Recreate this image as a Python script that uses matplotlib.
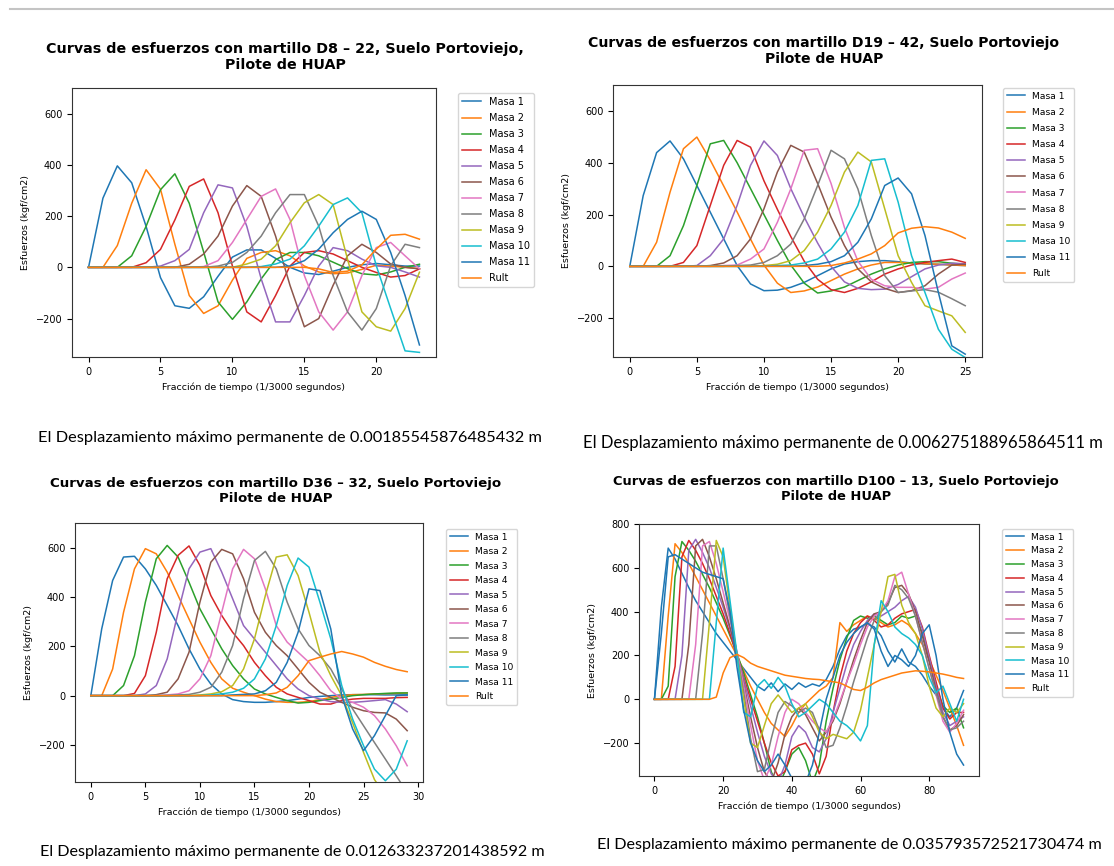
import matplotlib.pyplot as plt
from matplotlib.lines import Line2D
import numpy as np

W, H = 1114, 866

masa_labels = ["Masa 1", "Masa 2", "Masa 3", "Masa 4", "Masa 5", "Masa 6",
               "Masa 7", "Masa 8", "Masa 9", "Masa 10", "Masa 11", "Rult"]

# ---- D8-22 (x = 0..23) ----
t_d8 = np.arange(0, 24)
d8_m1 = [0, 270, 396, 330, 160, -40, -150, -160, -115, -35, 40, 68, 68, 35, 0, -22, -28, -15, 0, 10, 15, 10, 5, 5]
d8_m2 = [0, 0, 85, 250, 381, 305, 90, -110, -180, -150, -50, 35, 58, 65, 45, 5, -18, -25, -22, -8, 8, 5, 0, -5]
d8_m3 = [0, 0, 0, 45, 160, 303, 365, 250, 60, -135, -203, -135, -45, 30, 58, 58, 45, 20, -5, -25, -30, -18, 0, 12]
d8_m4 = [0, 0, 0, 0, 18, 70, 185, 316, 345, 213, 5, -174, -213, -110, 5, 58, 65, 52, 26, 0, -20, -38, -32, -6]
d8_m5 = [0, 0, 0, 0, 0, 5, 26, 70, 213, 322, 310, 160, -45, -213, -213, -110, 5, 77, 65, 32, 6, 0, -18, -38]
d8_m6 = [0, 0, 0, 0, 0, 0, 0, 12, 52, 122, 239, 319, 277, 122, -70, -232, -200, -70, 45, 90, 58, 13, 0, -6]
d8_m7 = [0, 0, 0, 0, 0, 0, 0, 0, 3, 26, 97, 187, 277, 306, 187, -32, -174, -245, -174, -32, 77, 97, 45, -6]
d8_m8 = [0, 0, 0, 0, 0, 0, 0, 0, 0, 5, 19, 58, 122, 213, 284, 284, 161, -32, -174, -245, -161, 6, 90, 77]
d8_m9 = [0, 0, 0, 0, 0, 0, 0, 0, 0, 0, 0, 13, 32, 84, 174, 252, 284, 245, 32, -174, -232, -249, -161, -19]
d8_m10 = [0, 0, 0, 0, 0, 0, 0, 0, 0, 0, 0, 0, 3, 13, 32, 84, 161, 245, 271, 213, 6, -161, -326, -332]
d8_m11 = [0, 0, 0, 0, 0, 0, 0, 0, 0, 0, 0, 0, 0, 0, 5, 26, 71, 135, 187, 219, 187, 58, -110, -303]
d8_rult = [0, 0, 0, 0, 0, 0, 0, 0, 0, 0, 0, 0, 0, 0, 0, 0, -6, -20, -15, 10, 71, 125, 129, 110]

# ---- D19-42 (x = 0..25) ----
t_d19 = np.arange(0, 26)
d19_m1 = [0, 273, 439, 484, 415, 312, 209, 106, 3, -68, -94, -92, -81, -62, -36, -10, 9, 18, 22, 22, 18, 13, 9, 8, 5, 3]
d19_m2 = [0, 0, 93, 286, 454, 499, 410, 310, 210, 105, 5, -65, -101, -95, -80, -55, -30, -10, 5, 15, 15, 13, 10, 8, 5, 3]
d19_m3 = [0, 0, 0, 41, 157, 312, 473, 486, 400, 300, 200, 100, 5, -65, -103, -95, -80, -55, -30, -10, 5, 15, 18, 18, 12, 8]
d19_m4 = [0, 0, 0, 0, 15, 80, 235, 390, 486, 460, 330, 220, 115, 20, -50, -90, -101, -85, -60, -30, -10, 5, 15, 22, 28, 15]
d19_m5 = [0, 0, 0, 0, 0, 3, 41, 106, 235, 390, 484, 428, 300, 190, 90, 0, -60, -85, -90, -88, -70, -40, -10, 5, 12, 10]
d19_m6 = [0, 0, 0, 0, 0, 0, 3, 13, 41, 106, 222, 364, 467, 441, 320, 190, 80, -10, -60, -85, -101, -94, -75, -30, 5, 8]
d19_m7 = [0, 0, 0, 0, 0, 0, 0, 3, 5, 28, 67, 170, 299, 448, 454, 320, 150, 20, -50, -75, -81, -81, -88, -81, -49, -26]
d19_m8 = [0, 0, 0, 0, 0, 0, 0, 0, 3, 5, 15, 41, 86, 183, 312, 448, 415, 299, 119, -36, -101, -95, -90, -100, -125, -152]
d19_m9 = [0, 0, 0, 0, 0, 0, 0, 0, 0, 0, 3, 8, 22, 61, 132, 235, 364, 441, 403, 222, 41, -62, -152, -172, -191, -255]
d19_m10 = [0, 0, 0, 0, 0, 0, 0, 0, 0, 0, 0, 3, 5, 13, 28, 67, 132, 235, 409, 415, 248, 41, -101, -243, -320, -352]
d19_m11 = [0, 0, 0, 0, 0, 0, 0, 0, 0, 0, 0, 0, 0, 3, 8, 18, 41, 93, 183, 312, 341, 280, 119, -101, -307, -339]
d19_rult = [0, 0, 0, 0, 0, 0, 0, 0, 0, 0, 0, 0, 0, 0, 0, 3, 13, 28, 48, 80, 129, 147, 153, 148, 132, 108]

# ---- D36-32 (x = 0..29) ----
t_d36 = np.arange(0, 30)
d36_m1 = [0, 271, 467, 562, 565, 514, 447, 366, 284, 190, 108, 47, 7, -16, -24, -27, -27, -24, -20, -14, -7, -3, 0, 3, 4, 4, 4, 3, 3, 3]
d36_m2 = [0, 0, 108, 338, 514, 596, 575, 501, 406, 311, 217, 135, 68, 30, 14, 0, -14, -24, -27, -27, -24, -16, -7, 0, 4, 5, 7, 8, 9, 11]
d36_m3 = [0, 0, 0, 41, 162, 379, 555, 609, 562, 460, 352, 271, 190, 122, 68, 27, 7, -7, -20, -30, -27, -20, -14, -7, 0, 4, 7, 9, 11, 11]
d36_m4 = [0, 0, 0, 0, 9, 81, 257, 474, 569, 607, 528, 406, 325, 257, 203, 135, 81, 34, 7, -7, -20, -34, -34, -20, -14, -11, -11, -11, -8, -7]
d36_m5 = [0, 0, 0, 0, 0, 7, 41, 149, 338, 514, 582, 596, 501, 393, 284, 230, 176, 122, 68, 27, 0, -14, -24, -27, -27, -24, -20, -16, -34, -65]
d36_m6 = [0, 0, 0, 0, 0, 0, 4, 14, 68, 176, 379, 541, 593, 575, 474, 338, 257, 203, 162, 108, 54, 14, -7, -27, -47, -61, -68, -70, -95, -142]
d36_m7 = [0, 0, 0, 0, 0, 0, 0, 3, 7, 20, 68, 162, 338, 514, 593, 555, 433, 284, 217, 176, 135, 81, 20, -14, -27, -47, -81, -135, -203, -284]
d36_m8 = [0, 0, 0, 0, 0, 0, 0, 0, 3, 5, 14, 34, 95, 203, 393, 548, 585, 514, 379, 271, 203, 162, 108, 27, -54, -122, -190, -257, -325, -393]
d36_m9 = [0, 0, 0, 0, 0, 0, 0, 0, 0, 0, 3, 7, 16, 41, 108, 230, 406, 562, 571, 487, 338, 176, 81, 0, -110, -230, -340, -406, -447, -474]
d36_m10 = [0, 0, 0, 0, 0, 0, 0, 0, 0, 0, 0, 3, 7, 14, 30, 68, 149, 284, 447, 558, 521, 379, 230, 41, -95, -203, -298, -345, -298, -183]
d36_m11 = [0, 0, 0, 0, 0, 0, 0, 0, 0, 0, 0, 0, 0, 3, 5, 7, 20, 54, 135, 257, 433, 426, 270, 0, -135, -223, -162, -81, 0, 3]
d36_rult = [0, 0, 0, 0, 0, 0, 0, 0, 0, 0, 0, 0, 0, 0, 0, 0, 4, 11, 34, 81, 142, 156, 169, 179, 169, 156, 135, 119, 106, 97]

# ---- D100-13 (x = 0..90, read every 2 units) ----
t_d100 = np.arange(0, 91, 2)
d100_m1 = [0, 420, 690, 640, 575, 510, 450, 400, 350, 300, 260, 220, 180, 140, 100, 60, 40, 75, 35, 70, 45, 75, 55, 70, 60, 90, 150, 230, 290, 320, 330, 345, 330, 290, 220, 170, 230, 170, 150, 110, 60, 20, -40, -80, -40, 40]
d100_m2 = [0, 0, 380, 710, 670, 620, 560, 500, 440, 380, 320, 260, 200, 130, 60, 0, -60, -110, -140, -170, -120, -60, -20, 10, 40, 60, 100, 350, 310, 340, 360, 380, 370, 350, 330, 340, 360, 340, 300, 250, 180, 110, 40, -40, -120, -210]
d100_m3 = [0, 0, 60, 560, 720, 680, 630, 570, 510, 440, 370, 290, 210, 120, 20, -80, -200, -330, -400, -330, -250, -220, -280, -380, -300, -100, 50, 180, 280, 360, 380, 370, 380, 360, 340, 350, 380, 370, 380, 300, 180, 60, -30, -60, -40, -130]
d100_m4 = [0, 0, 0, 150, 650, 725, 680, 620, 550, 470, 390, 300, 200, 100, 0, -100, -200, -290, -350, -330, -230, -210, -200, -250, -340, -260, -60, 100, 220, 300, 350, 380, 360, 330, 340, 370, 390, 400, 410, 330, 200, 80, -40, -90, -60, -60]
d100_m5 = [0, 0, 0, 0, 200, 680, 730, 670, 600, 510, 420, 320, 210, 90, -30, -150, -260, -340, -380, -300, -170, -120, -150, -220, -240, -180, -60, 50, 160, 250, 310, 360, 390, 380, 400, 420, 450, 470, 420, 320, 190, 60, -60, -120, -100, -80]
d100_m6 = [0, 0, 0, 0, 0, 250, 700, 730, 650, 550, 440, 330, 210, 70, -80, -220, -330, -380, -290, -160, -80, -40, -70, -130, -190, -150, -100, -20, 80, 180, 270, 350, 390, 400, 440, 510, 520, 480, 400, 290, 170, 40, -80, -140, -120, -70]
d100_m7 = [0, 0, 0, 0, 0, 0, 250, 700, 720, 620, 490, 360, 220, 60, -120, -280, -370, -300, -170, -60, 0, -20, -60, -100, -130, -150, -90, -10, 80, 160, 250, 330, 380, 400, 450, 560, 580, 480, 380, 260, 140, 20, -100, -150, -110, -50]
d100_m8 = [0, 0, 0, 0, 0, 0, 0, 300, 700, 700, 550, 380, 210, 30, -180, -330, -320, -180, -60, -10, -30, -60, -40, -60, -140, -220, -210, -130, -30, 80, 180, 280, 360, 400, 430, 520, 500, 460, 380, 260, 140, 30, -80, -140, -130, -100]
d100_m9 = [0, 0, 0, 0, 0, 0, 0, 0, 350, 725, 650, 420, 200, 0, -200, -220, -120, -20, 20, -20, -60, -40, -20, -80, -150, -180, -160, -170, -180, -150, -50, 100, 250, 400, 560, 570, 430, 350, 300, 200, 60, -40, -80, -40, -60, -20]
d100_m10 = [0, 0, 0, 0, 0, 0, 0, 0, 0, 350, 690, 450, 210, -60, -80, 60, 90, 50, 100, 60, -20, -80, -60, -30, 0, -20, -60, -100, -120, -150, -190, -120, 250, 450, 400, 330, 300, 280, 250, 200, 100, 30, 60, -20, -100, 0]
d100_m11 = [0, 300, 650, 660, 640, 620, 600, 580, 570, 560, 550, 400, 150, -50, -200, -280, -330, -300, -250, -300, -360, -400, -380, -300, -150, 0, 100, 200, 260, 300, 330, 350, 320, 220, 150, 200, 180, 150, 200, 300, 340, 200, 0, -150, -250, -300]
d100_rult = [0, 0, 0, 0, 0, 0, 0, 0, 0, 10, 120, 190, 205, 190, 165, 150, 140, 130, 120, 110, 105, 100, 95, 92, 90, 85, 80, 75, 60, 45, 40, 55, 75, 90, 100, 110, 120, 125, 130, 128, 125, 120, 115, 108, 100, 95]

d8 = [d8_m1, d8_m2, d8_m3, d8_m4, d8_m5, d8_m6, d8_m7, d8_m8, d8_m9, d8_m10, d8_m11, d8_rult]
d19 = [d19_m1, d19_m2, d19_m3, d19_m4, d19_m5, d19_m6, d19_m7, d19_m8, d19_m9, d19_m10, d19_m11, d19_rult]
d36 = [d36_m1, d36_m2, d36_m3, d36_m4, d36_m5, d36_m6, d36_m7, d36_m8, d36_m9, d36_m10, d36_m11, d36_rult]
d100 = [d100_m1, d100_m2, d100_m3, d100_m4, d100_m5, d100_m6, d100_m7, d100_m8, d100_m9, d100_m10, d100_m11, d100_rult]

titles = ["Curvas de esfuerzos con martillo D8 – 22, Suelo Portoviejo,\nPilote de HUAP",
          "Curvas de esfuerzos con martillo D19 – 42, Suelo Portoviejo\nPilote de HUAP",
          "Curvas de esfuerzos con martillo D36 – 32, Suelo Portoviejo\nPilote de HUAP",
          "Curvas de esfuerzos con martillo D100 – 13, Suelo Portoviejo\nPilote de HUAP"]
desplazamientos = ["0.00185545876485432", "0.006275188965864511",
                   "0.012633237201438592", "0.035793572521730474"]

plt.rcParams['font.size'] = 7

fig = plt.figure(figsize=(W/100, H/100), dpi=100)


def px_axes(l, t, r, b):
    return fig.add_axes([l/W, 1-b/H, (r-l)/W, (b-t)/H])


def fit_width(txt, target):
    rend = fig.canvas.get_renderer()
    w = txt.get_window_extent(rend).width
    txt.set_fontsize(txt.get_fontsize()*target/w)


# axes box, ylim, legend corner + font + spacing, title centre/width, note position/width
layout = [
    (t_d8, d8, (72, 88, 436, 357), (-350, 700), (458, 93, 7.0, 0.62), (285, 57, 474), (38, 438, 505)),
    (t_d19, d19, (613, 85, 982, 357), (-350, 700), (1003, 88, 6.6, 0.78), (824, 51, 472), (583, 443, 522)),
    (t_d36, d36, (75, 523, 423, 782), (-350, 700), (446, 529, 6.6, 0.6), (276, 491, 452), (40, 852, 505)),
    (t_d100, d100, (639, 524, 979, 776), (-350, 800), (1002, 529, 6.6, 0.52), (836, 489, 448), (597, 845, 505)),
]

for i, (t, series, box, ylim, leg, tt, note) in enumerate(layout):
    ax = px_axes(*box)
    for y, lab in zip(series, masa_labels):
        ax.plot(t, y, lw=1.1, label=lab)
    ax.set_ylim(ylim)
    ax.set_xlabel("Fracción de tiempo (1/3000 segundos)", fontsize=6.8)
    ax.set_ylabel("Esfuerzos (kgf/cm2)", fontsize=6.8)
    ax.tick_params(labelsize=7)
    for s in ax.spines.values():
        s.set_color('#333333')
    ax.legend(loc='upper left', bbox_to_anchor=(leg[0]/W, 1-leg[1]/H),
              bbox_transform=fig.transFigure, borderaxespad=0, fontsize=leg[2],
              labelspacing=leg[3])
    ttl = fig.text(tt[0]/W, 1-tt[1]/H, titles[i], ha='center', va='center',
                   fontweight='bold', fontsize=10, linespacing=1.25)
    fit_width(ttl, tt[2])
    nt = fig.text(note[0]/W, 1-note[1]/H,
                  f"El Desplazamiento máximo permanente de {desplazamientos[i]} m",
                  ha='left', va='center', fontsize=10, family='Lato')
    fit_width(nt, note[2])

fig.add_artist(Line2D([10/W, 1], [1-9/H, 1-9/H], color='#c4c4c4', lw=1.5))

fig.savefig("out.png", dpi=100)
